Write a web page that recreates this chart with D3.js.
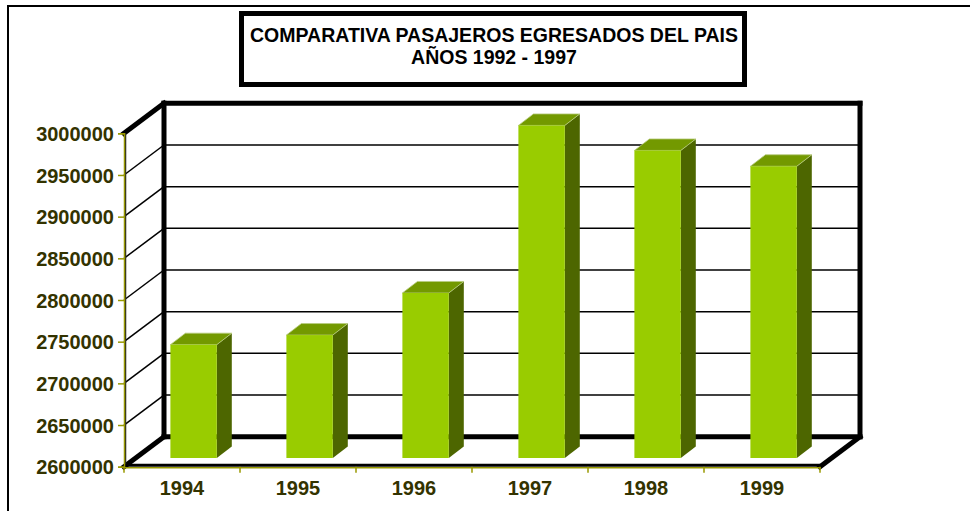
<!DOCTYPE html>
<html lang="es">
<head>
<meta charset="UTF-8">
<title>Comparativa pasajeros egresados del pais</title>
<script src="https://d3js.org/d3.v7.min.js"></script>
<style>
  body { margin: 0; background: #fff; }
  svg { display: block; font-family: "Liberation Sans", Arial, sans-serif; }
</style>
</head>
<body>
<div id="chart"></div>
<script>

const years = ["1994", "1995", "1996", "1997", "1998", "1999"];
const pasajeros = [2736000, 2747500, 2798000, 2999000, 2969000, 2950000];
const yTicks = [2600000, 2650000, 2700000, 2750000, 2800000, 2850000, 2900000, 2950000, 3000000];
const titleLines = ["COMPARATIVA PASAJEROS EGRESADOS DEL PAIS", "AÑOS 1992 - 1997"];

const W = 970, H = 511;
const svg = d3.select("#chart").append("svg")
  .attr("width", W)
  .attr("height", H);

// outer frame
svg.append("rect")
  .attr("x", 8).attr("y", 6)
  .attr("width", W + 20).attr("height", H + 20)
  .attr("fill", "none").attr("stroke", "#000").attr("stroke-width", 2);

// title box
svg.append("rect")
  .attr("x", 241.5).attr("y", 13.5)
  .attr("width", 503).attr("height", 71)
  .attr("fill", "#fff").attr("stroke", "#000").attr("stroke-width", 5);

svg.append("g").selectAll("text")
  .data(titleLines)
  .join("text")
  .attr("x", 494)
  .attr("y", (d, i) => 42 + i * 22)
  .attr("text-anchor", "middle")
  .style("font-weight", "bold")
  .style("font-size", "19.5px")
  .text(d => d);

// 3d depth of the plot box
const DX = 40, DY = -30;

const y = d3.scaleLinear()
  .domain([2600000, 3000000])
  .range([466.7, 133.3]);

const x = d3.scaleBand()
  .domain(years)
  .range([124, 820])
  .paddingInner(0.6)
  .paddingOuter(0.3);

const olive = "#999900";
const labelColor = "#333300";

// gridlines on back wall and side wall
const grid = svg.append("g");
grid.selectAll("line.back")
  .data(yTicks.slice(1, -1))
  .join("line")
  .attr("class", "back")
  .attr("x1", 124 + DX).attr("x2", 820 + DX)
  .attr("y1", d => y(d) + DY).attr("y2", d => y(d) + DY)
  .attr("stroke", "#000").attr("stroke-width", 1.5);

grid.selectAll("line.side")
  .data(yTicks.slice(1, -1))
  .join("line")
  .attr("class", "side")
  .attr("x1", 124).attr("x2", 124 + DX)
  .attr("y1", d => y(d)).attr("y2", d => y(d) + DY)
  .attr("stroke", "#000").attr("stroke-width", 1.5);

// thick frame of the walls
const y0 = y(2600000), yTop = y(3000000);
const thick = [
  [124 + DX, yTop + DY, 820 + DX, yTop + DY],
  [124 + DX, yTop + DY, 124 + DX, y0 + DY],
  [820 + DX, yTop + DY, 820 + DX, y0 + DY],
  [124 + DX, y0 + DY, 820 + DX, y0 + DY],
  [124, yTop, 124 + DX, yTop + DY],
  [124, y0, 124 + DX, y0 + DY],
  [820, y0, 820 + DX, y0 + DY]
];
svg.append("g").selectAll("line")
  .data(thick)
  .join("line")
  .attr("x1", d => d[0]).attr("y1", d => d[1])
  .attr("x2", d => d[2]).attr("y2", d => d[3])
  .attr("stroke", "#000").attr("stroke-width", 5)
  .attr("stroke-linecap", "square");

// side wall front edge
svg.append("line")
  .attr("x1", 125.5).attr("x2", 125.5)
  .attr("y1", yTop).attr("y2", y0)
  .attr("stroke", "#222").attr("stroke-width", 1.5);

// bars
const depthFront = 8.7;           // how far the bar front sits behind the front plane
const bdx = 15, bdy = -11.5;      // bar depth
const bars = svg.append("g");
years.forEach((yr, i) => {
  const v = pasajeros[i];
  const x0 = x(yr) + depthFront * DX / -DY;
  const x1 = x0 + x.bandwidth();
  const yb = y0 - depthFront;
  const yt = y(v) - depthFront;
  bars.append("polygon")
    .attr("points", [[x1, yb], [x1 + bdx, yb + bdy], [x1 + bdx, yt + bdy], [x1, yt]].join(" "))
    .attr("fill", "#4d6600");
  bars.append("polygon")
    .attr("points", [[x0, yt], [x1, yt], [x1 + bdx, yt + bdy], [x0 + bdx, yt + bdy]].join(" "))
    .attr("fill", "#739900").attr("stroke", "#b8cc80").attr("stroke-width", 0.8);
  bars.append("rect")
    .attr("x", x0).attr("y", yt)
    .attr("width", x1 - x0).attr("height", yb - yt)
    .attr("fill", "#99cc00");
});

// front floor edge
svg.append("line")
  .attr("x1", 124).attr("x2", 820)
  .attr("y1", y0 - 1.5).attr("y2", y0 - 1.5)
  .attr("stroke", "#000").attr("stroke-width", 3);

// y axis
const yAxis = svg.append("g")
  .attr("transform", "translate(124,0)")
  .call(d3.axisLeft(y).tickValues(yTicks).tickSize(6).tickPadding(4).tickFormat(d3.format("d")));
yAxis.select(".domain").attr("stroke", olive).attr("stroke-width", 1.5);
yAxis.selectAll(".tick line").attr("stroke", olive).attr("stroke-width", 1.5);
yAxis.selectAll(".tick text")
  .attr("fill", labelColor)
  .style("font-size", "20px")
  .style("font-weight", "bold")
  .attr("dy", "0.36em");

// x axis
const xAxis = svg.append("g")
  .attr("transform", `translate(0,${y0 + 0.5})`)
  .call(d3.axisBottom(x).tickSize(0).tickPadding(14));
xAxis.select(".domain").attr("stroke", olive).attr("stroke-width", 1.5);
xAxis.selectAll(".tick text")
  .attr("fill", labelColor)
  .style("font-size", "20px")
  .style("font-weight", "bold");

svg.append("g").selectAll("line")
  .data(d3.range(years.length + 1))
  .join("line")
  .attr("x1", i => 124 + i * x.step()).attr("x2", i => 124 + i * x.step())
  .attr("y1", y0).attr("y2", y0 + 6)
  .attr("stroke", olive).attr("stroke-width", 1.5);

</script>
</body>
</html>
